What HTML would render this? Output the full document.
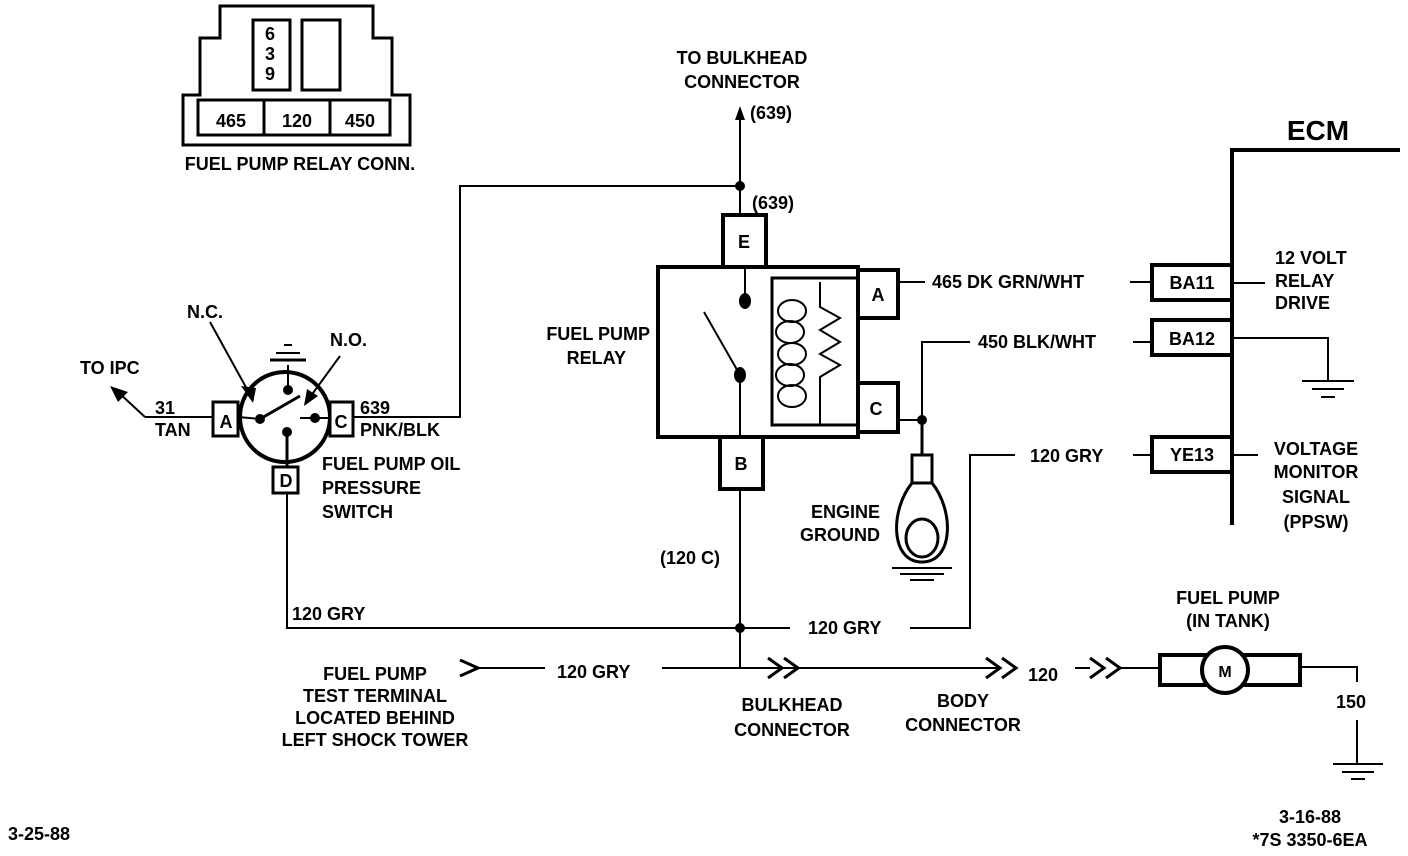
<!DOCTYPE html>
<html><head><meta charset="utf-8"><style>
html,body{margin:0;padding:0;background:#fff;}
svg{display:block;}
text{font-family:"Liberation Sans",sans-serif;font-weight:bold;font-size:18px;fill:#000;}
.c{text-anchor:middle;}
.r{text-anchor:end;}
</style></head><body>
<svg width="1408" height="856" viewBox="0 0 1408 856" xmlns="http://www.w3.org/2000/svg">
<g fill="none" stroke="#000" stroke-width="2">
<polygon points="220,6 373,6 373,38 392,38 392,95 410,95 410,145 183,145 183,95 200,95 200,38 220,38" stroke-width="3"/>
<rect x="253" y="20" width="37" height="70" stroke-width="3"/>
<rect x="302" y="20" width="38" height="70" stroke-width="3"/>
<rect x="198" y="100" width="192" height="35" stroke-width="3"/>
<line x1="264" y1="100" x2="264" y2="135" stroke-width="3"/>
<line x1="330" y1="100" x2="330" y2="135" stroke-width="3"/>

<circle cx="285" cy="417" r="45" stroke-width="4"/>
<rect x="213" y="402" width="25" height="34" stroke-width="3" fill="#fff"/>
<rect x="330" y="402" width="23" height="34" stroke-width="3" fill="#fff"/>
<rect x="273" y="467" width="25" height="26" stroke-width="3" fill="#fff"/>
<line x1="238" y1="417" x2="260" y2="419"/>
<line x1="260" y1="419" x2="300" y2="396" stroke-width="3"/>
<line x1="288" y1="390" x2="288" y2="365"/>
<line x1="270" y1="360" x2="306" y2="360" stroke-width="3"/>
<line x1="276" y1="353" x2="300" y2="353"/>
<line x1="284" y1="345" x2="292" y2="345"/>
<line x1="300" y1="418" x2="330" y2="418"/>
<line x1="287" y1="432" x2="287" y2="467" stroke-width="3"/>
<line x1="210" y1="322" x2="253" y2="400"/>
<line x1="340" y1="356" x2="305" y2="404"/>
<line x1="213" y1="417" x2="145" y2="417"/>
<line x1="145" y1="417" x2="118" y2="392"/>
<polyline points="353,417 460,417 460,186 740,186"/>
<polyline points="287,493 287,628 740,628"/>

<line x1="740" y1="118" x2="740" y2="215"/>
<line x1="740" y1="489" x2="740" y2="668"/>
<rect x="658" y="267" width="200" height="170" stroke-width="4"/>
<rect x="723" y="215" width="43" height="52" stroke-width="4" fill="#fff"/>
<rect x="720" y="437" width="43" height="52" stroke-width="4" fill="#fff"/>
<rect x="772" y="278" width="86" height="147" stroke-width="3"/>
<rect x="858" y="270" width="40" height="48" stroke-width="4" fill="#fff"/>
<rect x="858" y="383" width="40" height="49" stroke-width="4" fill="#fff"/>
<polyline points="820,282 820,307 840,318 820,330 840,342 820,354 840,365 820,377 820,425"/>
<ellipse cx="792" cy="311" rx="14" ry="11"/>
<ellipse cx="790" cy="332" rx="14" ry="11"/>
<ellipse cx="792" cy="354" rx="14" ry="11"/>
<ellipse cx="790" cy="375" rx="14" ry="11"/>
<ellipse cx="792" cy="396" rx="14" ry="11"/>
<line x1="745" y1="267" x2="745" y2="300"/>
<line x1="704" y1="312" x2="740" y2="375"/>
<line x1="740" y1="375" x2="740" y2="437"/>
<line x1="898" y1="282" x2="925" y2="282"/>
<line x1="1130" y1="282" x2="1152" y2="282"/>
<polyline points="898,420 922,420"/>
<polyline points="922,420 922,342 970,342"/>
<line x1="1133" y1="342" x2="1152" y2="342"/>
<line x1="922" y1="420" x2="922" y2="455" stroke-width="3"/>
<rect x="912" y="455" width="20" height="28" stroke-width="3"/>
<path d="M912,483 C890,510 890,562 922,562 C954,562 954,510 932,483" stroke-width="3"/>
<ellipse cx="922" cy="538" rx="16" ry="19" stroke-width="3"/>
<line x1="892" y1="568" x2="952" y2="568"/>
<line x1="900" y1="574" x2="944" y2="574"/>
<line x1="910" y1="580" x2="934" y2="580"/>
<polyline points="1400,150 1232,150 1232,525" stroke-width="4"/>
<rect x="1152" y="265" width="80" height="35" stroke-width="4" fill="#fff"/>
<rect x="1152" y="320" width="80" height="35" stroke-width="4" fill="#fff"/>
<rect x="1152" y="437" width="80" height="35" stroke-width="4" fill="#fff"/>
<line x1="1232" y1="283" x2="1265" y2="283"/>
<polyline points="1232,338 1328,338 1328,380"/>
<line x1="1302" y1="381" x2="1354" y2="381"/>
<line x1="1312" y1="389" x2="1344" y2="389"/>
<line x1="1321" y1="397" x2="1335" y2="397"/>
<line x1="1133" y1="455" x2="1152" y2="455"/>
<line x1="1232" y1="455" x2="1258" y2="455"/>
<polyline points="1015,455 970,455 970,628 910,628"/>
<line x1="740" y1="628" x2="790" y2="628"/>
<polyline points="460,660 478,668 460,676" stroke-width="3"/>
<line x1="478" y1="668" x2="545" y2="668"/>
<line x1="662" y1="668" x2="1000" y2="668"/>
<polyline points="768,658 782,668 768,678" stroke-width="3"/>
<polyline points="784,658 798,668 784,678" stroke-width="3"/>
<polyline points="986,658 1000,668 986,678" stroke-width="3"/>
<polyline points="1002,658 1016,668 1002,678" stroke-width="3"/>
<line x1="1075" y1="668" x2="1090" y2="668"/>
<polyline points="1090,658 1104,668 1090,678" stroke-width="3"/>
<polyline points="1106,658 1120,668 1106,678" stroke-width="3"/>
<line x1="1120" y1="668" x2="1160" y2="668"/>
<rect x="1160" y="655" width="140" height="30" stroke-width="4"/>
<circle cx="1225" cy="670" r="23" stroke-width="4" fill="#fff"/>
<polyline points="1300,667 1357,667 1357,682"/>
<line x1="1357" y1="720" x2="1357" y2="763"/>
<line x1="1333" y1="764" x2="1383" y2="764"/>
<line x1="1342" y1="772" x2="1374" y2="772"/>
<line x1="1351" y1="779" x2="1365" y2="779"/>
</g>
<g fill="#000">
<circle cx="260" cy="419" r="5"/><circle cx="288" cy="390" r="5"/>
<circle cx="315" cy="418" r="5"/><circle cx="287" cy="432" r="5"/>
<polygon points="253,403 241,386 256,388"/>
<polygon points="304,406 307,389 318,396"/>
<polygon points="110,386 128,392 118,402"/>
<polygon points="740,106 735,120 745,120"/>
<circle cx="740" cy="186" r="5"/><circle cx="740" cy="628" r="5"/>
<circle cx="922" cy="420" r="5"/>
<ellipse cx="745" cy="301" rx="6" ry="8"/><ellipse cx="740" cy="375" rx="6" ry="8"/>
</g>
<text x="270" y="40" class="c">6</text><text x="270" y="60" class="c">3</text><text x="270" y="80" class="c">9</text>
<text x="231" y="127" class="c">465</text><text x="297" y="127" class="c">120</text><text x="360" y="127" class="c">450</text>
<text x="300" y="170" class="c">FUEL PUMP RELAY CONN.</text>
<text x="187" y="318">N.C.</text>
<text x="330" y="346">N.O.</text>
<text x="80" y="374">TO IPC</text>
<text x="155" y="414">31</text><text x="155" y="436">TAN</text>
<text x="226" y="428" class="c">A</text><text x="341" y="428" class="c">C</text><text x="286" y="487" class="c">D</text>
<text x="360" y="414">639</text><text x="360" y="436">PNK/BLK</text>
<text x="322" y="470">FUEL PUMP OIL</text><text x="322" y="494">PRESSURE</text><text x="322" y="518">SWITCH</text>
<text x="742" y="64" class="c">TO BULKHEAD</text><text x="742" y="88" class="c">CONNECTOR</text>
<text x="750" y="119">(639)</text><text x="752" y="209">(639)</text>
<text x="650" y="340" class="r">FUEL PUMP</text><text x="626" y="364" class="r">RELAY</text>
<text x="744" y="248" class="c">E</text><text x="741" y="470" class="c">B</text>
<text x="878" y="301" class="c">A</text><text x="876" y="415" class="c">C</text>
<text x="932" y="288">465 DK GRN/WHT</text>
<text x="978" y="348">450 BLK/WHT</text>
<text x="1030" y="462">120 GRY</text>
<text x="1192" y="289" class="c">BA11</text><text x="1192" y="345" class="c">BA12</text><text x="1192" y="461" class="c">YE13</text>
<text x="1318" y="140" class="c" style="font-size:28px">ECM</text>
<text x="1275" y="264">12 VOLT</text><text x="1275" y="287">RELAY</text><text x="1275" y="309">DRIVE</text>
<text x="1316" y="455" class="c">VOLTAGE</text><text x="1316" y="478" class="c">MONITOR</text><text x="1316" y="503" class="c">SIGNAL</text><text x="1316" y="528" class="c">(PPSW)</text>
<text x="880" y="518" class="r">ENGINE</text><text x="880" y="541" class="r">GROUND</text>
<text x="660" y="564">(120 C)</text>
<text x="292" y="620">120 GRY</text>
<text x="808" y="634">120 GRY</text>
<text x="557" y="678">120 GRY</text>
<text x="375" y="680" class="c">FUEL PUMP</text><text x="375" y="702" class="c">TEST TERMINAL</text><text x="375" y="724" class="c">LOCATED BEHIND</text><text x="375" y="746" class="c">LEFT SHOCK TOWER</text>
<text x="792" y="711" class="c">BULKHEAD</text><text x="792" y="736" class="c">CONNECTOR</text>
<text x="963" y="707" class="c">BODY</text><text x="963" y="731" class="c">CONNECTOR</text>
<text x="1028" y="681">120</text>
<text x="1225" y="677" class="c" style="font-size:16px">M</text>
<text x="1228" y="604" class="c">FUEL PUMP</text><text x="1228" y="627" class="c">(IN TANK)</text>
<text x="1351" y="708" class="c">150</text>
<text x="8" y="840">3-25-88</text>
<text x="1310" y="823" class="c">3-16-88</text><text x="1310" y="846" class="c">*7S 3350-6EA</text>
</svg>
</body></html>
